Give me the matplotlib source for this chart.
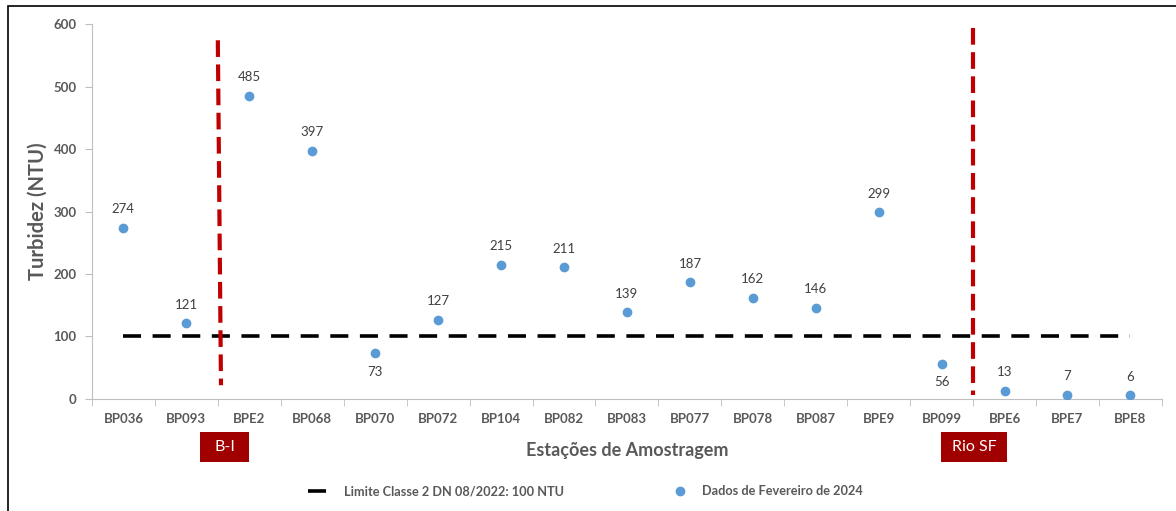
import matplotlib.pyplot as plt
from matplotlib.patches import Rectangle

plt.rcParams['font.family'] = ['Lato', 'DejaVu Sans']

stations = ['BP036', 'BP093', 'BPE2', 'BP068', 'BP070', 'BP072', 'BP104', 'BP082', 'BP083',
            'BP077', 'BP078', 'BP087', 'BPE9', 'BP099', 'BPE6', 'BPE7', 'BPE8']
turbidity = [274, 121, 485, 397, 73, 127, 215, 211, 139, 187, 162, 146, 299, 56, 13, 7, 6]
label_below = ['BP070', 'BP099']
limit = 100

fig = plt.figure(figsize=(11.76, 5.11), dpi=100)
ax = fig.add_axes([0.0782, 0.2192, 0.9098, 0.7338])

x = list(range(len(stations)))
ax.plot(x, [limit] * len(x), color='black', lw=2.6, dashes=(5, 3.2), zorder=2,
        label='Limite Classe 2 DN 08/2022: 100 NTU')
ax.plot(x, turbidity, 'o', color='#5B9BD5', ms=6, zorder=3, label='Dados de Fevereiro de 2024')

for i, (s, v) in enumerate(zip(stations, turbidity)):
    if s in label_below:
        ax.text(i, v - 20, str(v), ha='center', va='top', fontsize=9.5, color='#404040')
    else:
        ax.text(i, v + 20, str(v), ha='center', va='bottom', fontsize=9.5, color='#404040')

ax.set_xlim(-0.5, len(stations) - 0.5)
ax.set_ylim(0, 600)
ax.set_yticks(range(0, 601, 100))
ax.set_xticks(x)
ax.set_xticklabels(stations)
ax.set_xticks([i + 0.5 for i in range(-1, len(stations))], minor=True)
ax.tick_params(axis='x', which='major', length=0, pad=10)
ax.tick_params(axis='x', which='minor', length=5, color='#BFBFBF')
ax.tick_params(axis='y', length=5, color='#BFBFBF', pad=6)
for lab in ax.get_xticklabels() + ax.get_yticklabels():
    lab.set_fontweight('bold')
    lab.set_color('#595959')
    lab.set_fontsize(9.5)

for sp in ['top', 'right']:
    ax.spines[sp].set_visible(False)
for sp in ['left', 'bottom']:
    ax.spines[sp].set_color('#BFBFBF')

ax.set_ylabel('Turbidez (NTU)', fontsize=14.5, fontweight='bold', color='#595959', labelpad=4)
ax.set_xlabel('Estações de Amostragem', fontsize=13, fontweight='bold', color='#595959', labelpad=12)

# red boundary lines
ax.plot([1.5, 1.55], [574, 22], color='#C00000', lw=3, dashes=(4, 1.8), clip_on=False, zorder=4)
ax.plot([13.5, 13.5], [594, 6], color='#C00000', lw=3, dashes=(4, 1.8), clip_on=False, zorder=4)

# region tags
for (x0, x1, txt) in [(200, 249, 'B-I'), (941, 1007, 'Rio SF')]:
    fig.patches.append(Rectangle((x0 / 1176, 1 - 462 / 511), (x1 - x0) / 1176, 30 / 511,
                                 transform=fig.transFigure, facecolor='#A00000', edgecolor='none'))
    fig.text((x0 + x1) / 2 / 1176, 1 - 447 / 511, txt, ha='center', va='center',
             color='white', fontsize=11.5)

fig.legend(loc='center', bbox_to_anchor=(0.498, 1 - 491 / 511), ncol=2, frameon=False,
           handlelength=2.2, handletextpad=0.6, columnspacing=8.0, labelcolor='#595959',
           prop={'weight': 'bold', 'size': 9.2})

fig.patches.append(Rectangle((8 / 1176, -0.05), 1.1, 1 - 6 / 511 + 0.05, transform=fig.transFigure,
                             facecolor='none', edgecolor='black', lw=1.2))

fig.savefig('out.png', dpi=100)
